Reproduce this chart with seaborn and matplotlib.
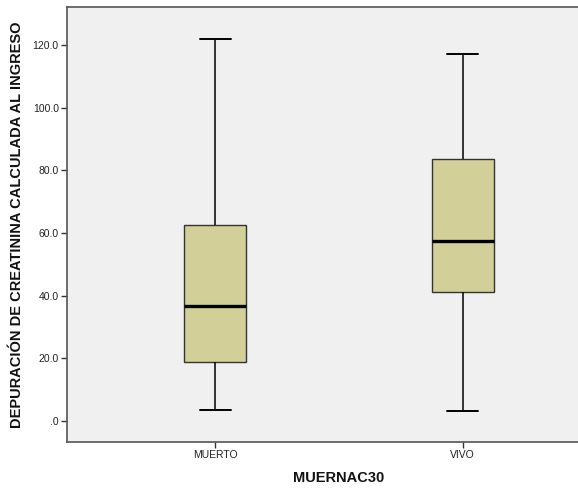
import numpy as np
import pandas as pd
import seaborn as sns
import matplotlib
matplotlib.use("Agg")
import matplotlib.pyplot as plt

# Five-number summaries (min, Q1, median, Q3, max) per outcome group
groups = ["MUERTO", "VIVO"]
muerto_vals = [3.4, 18.9, 36.6, 62.7, 122.1]
vivo_vals = [3.1, 41.2, 57.4, 83.5, 117.1]
y_ticks = [0, 20, 40, 60, 80, 100, 120]
y_tick_labels = [".0", "20.0", "40.0", "60.0", "80.0", "100.0", "120.0"]

df = pd.DataFrame({
    "MUERNAC30": [groups[0]] * len(muerto_vals) + [groups[1]] * len(vivo_vals),
    "value": muerto_vals + vivo_vals,
})

sns.set_theme(style="white")
plt.rcParams["font.family"] = ["Liberation Sans", "DejaVu Sans"]

fig = plt.figure(figsize=(5.78, 4.91), dpi=100)
ax = fig.add_axes([0.116, 0.100, 0.941, 0.886])
ax.set_facecolor("#f0f0f0")

sns.boxplot(
    data=df, x="MUERNAC30", y="value", order=groups, ax=ax,
    whis=(0, 100), width=0.25, color="#d3cf98", saturation=1,
    linecolor="#222222", linewidth=1.0,
    medianprops=dict(color="black", linewidth=2.4),
    whiskerprops=dict(color="black", linewidth=1.1),
    capprops=dict(color="black", linewidth=1.4),
    boxprops=dict(edgecolor="#333333", linewidth=1.0),
)

ax.set_xlim(-0.6, 1.6)
ax.set_ylim(-6.7, 132.2)
ax.set_yticks(y_ticks)
ax.set_yticklabels(y_tick_labels)

for side in ["left", "top", "bottom"]:
    ax.spines[side].set_color("#555555")
    ax.spines[side].set_linewidth(1.2)
ax.spines["right"].set_visible(False)

ax.tick_params(axis="both", which="both", direction="out", length=4, width=1,
               color="#333333", labelsize=7.5, labelcolor="#222222", pad=2,
               left=True, bottom=True)

ax.set_xlabel("MUERNAC30", fontsize=10.5, fontweight="bold", color="#111111", labelpad=8)
ax.set_ylabel("DEPURACIÓN DE CREATININA CALCULADA AL INGRESO", fontsize=10.5,
              fontweight="bold", color="#111111", labelpad=6)

fig.savefig("out.png", dpi=100, facecolor="white")
